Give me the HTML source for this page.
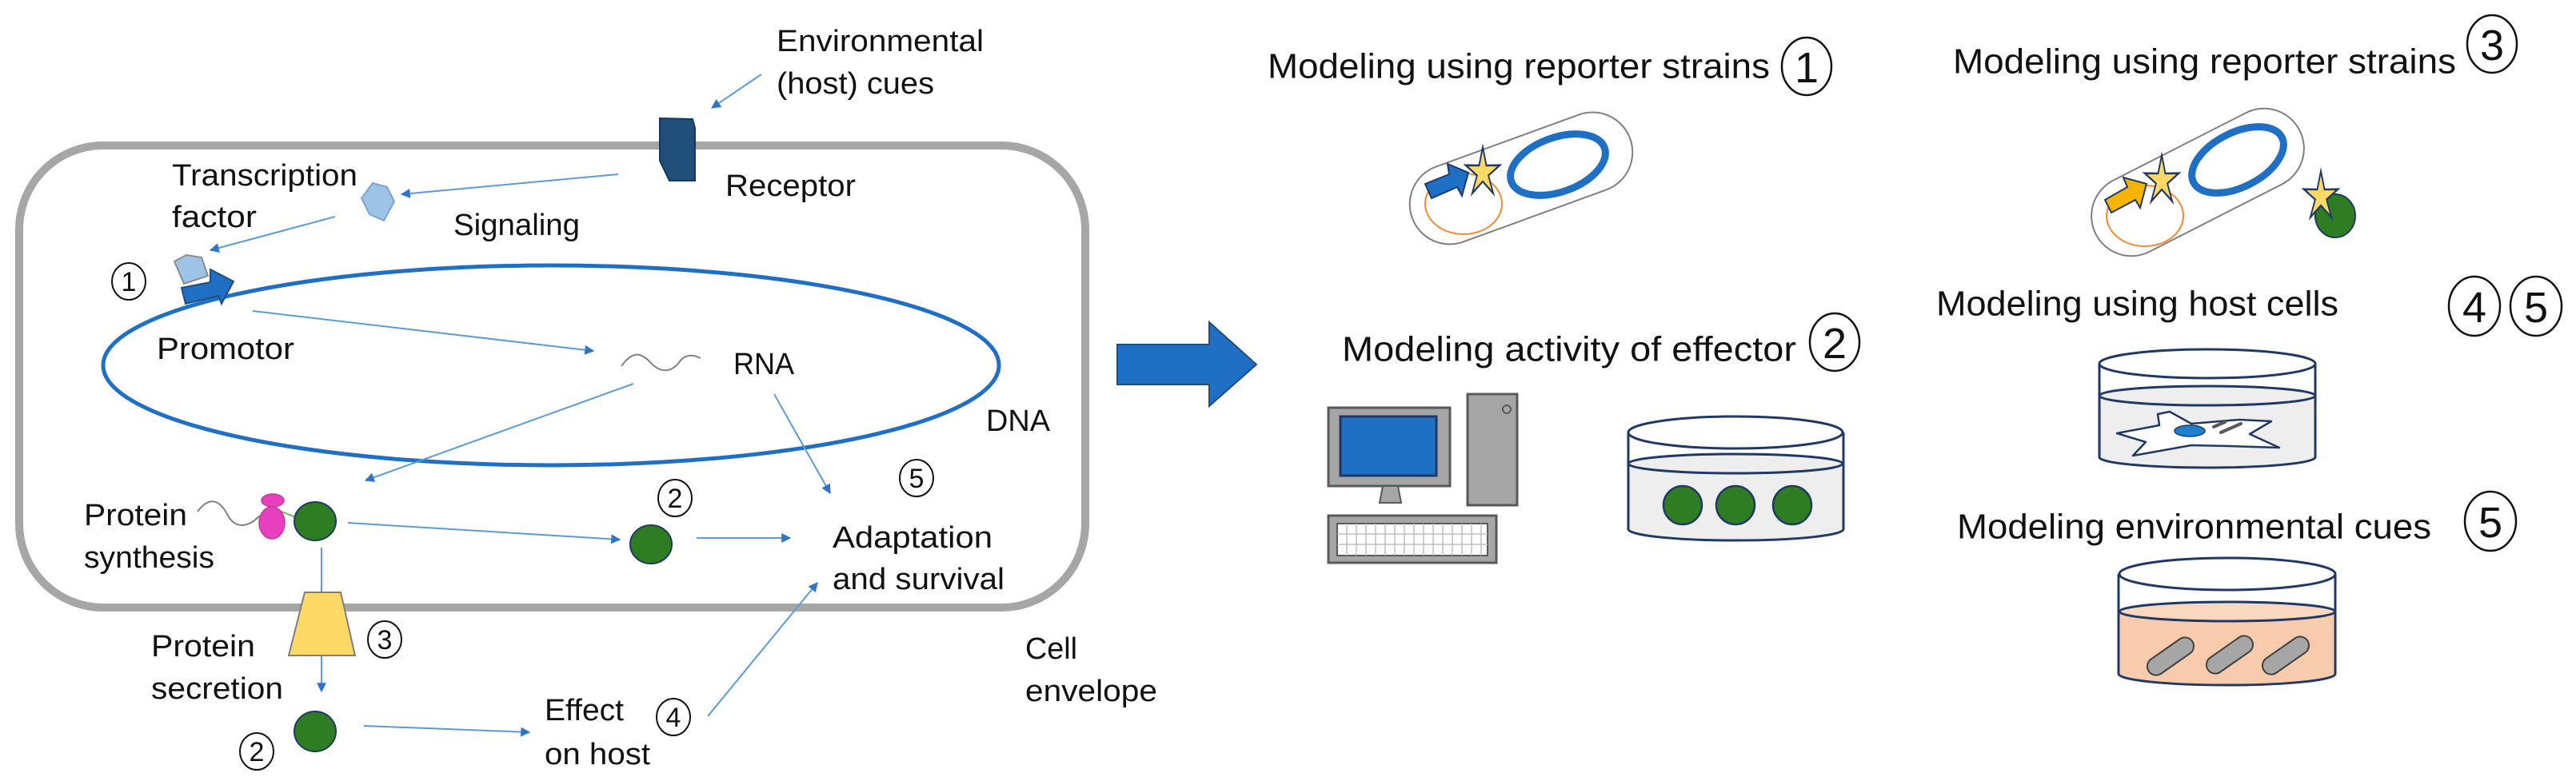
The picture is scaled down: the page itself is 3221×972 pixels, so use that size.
<!DOCTYPE html>
<html><head><meta charset="utf-8"><style>
html,body{margin:0;padding:0;background:#fff;}
svg{display:block;}
text{font-family:"Liberation Sans",sans-serif;fill:#111;dominant-baseline:central;}
</style></head><body>
<svg width="3221" height="972" viewBox="0 0 3221 972" xmlns="http://www.w3.org/2000/svg">
<defs>
<marker id="ah" viewBox="0 0 10 10" refX="9" refY="5" markerWidth="12" markerHeight="12" markerUnits="userSpaceOnUse" orient="auto"><path d="M0,0 L10,5 L0,10 z" fill="#2e75c8"/></marker>
<polygon id="star" points="0,-32 6,-9 28.5,-9.3 9.5,3.5 17.6,26 0,11 -17.6,26 -9.5,3.5 -28.5,-9.3 -6,-9" fill="#ffd966" stroke="#1f3864" stroke-width="2.5"/>
</defs>

<!-- Cell -->
<rect x="24" y="182" width="1333" height="578" rx="105" ry="105" fill="none" stroke="#a6a6a6" stroke-width="10"/>
<!-- DNA -->
<ellipse cx="689" cy="457" rx="560" ry="125" fill="none" stroke="#1f6fc5" stroke-width="5"/>

<!-- connectors -->
<g stroke="#5b9bd5" stroke-width="2" fill="none" marker-end="url(#ah)">
<line x1="952" y1="93" x2="890" y2="135"/>
<line x1="773" y1="218" x2="502" y2="243"/>
<line x1="419" y1="271" x2="263" y2="313"/>
<line x1="316" y1="389" x2="742" y2="439"/>
<line x1="792" y1="480" x2="457" y2="601"/>
<line x1="968" y1="493" x2="1038" y2="617"/>
<line x1="435" y1="654" x2="775" y2="675"/>
<line x1="871" y1="673" x2="988" y2="673"/>
<line x1="402" y1="685" x2="402" y2="865"/>
<line x1="455" y1="908" x2="662" y2="916"/>
<line x1="885" y1="896" x2="1022" y2="729"/>
</g>

<!-- receptor -->
<polygon points="825,148 866,149 869,160 869,226 837,226 825,201" fill="#1f4e79" stroke="#17375e" stroke-width="2"/>
<!-- TF diamond -->
<polygon points="466,229 484,234 493,252 480,276 462,268 452,248" fill="#9dc3e6" stroke="#7aa5d0" stroke-width="2"/>
<!-- promoter -->
<polygon points="218,327 233,319 252,322 260,345 230,355" fill="#9dc3e6" stroke="#8c8c8c" stroke-width="2"/>
<polygon points="227,360 263,353 263,337 292,352 277,380 273,370 232,380" fill="#1f6fc5" stroke="#1f4e79" stroke-width="2"/>

<!-- RNA squiggle -->
<path d="M777,458 C790,440 800,440 812,452 C826,468 840,466 850,452 C858,442 868,444 876,448" fill="none" stroke="#808080" stroke-width="2"/>
<!-- protein synthesis -->
<path d="M247,640 C262,620 275,625 285,645 C295,662 310,660 325,645" fill="none" stroke="#808080" stroke-width="2"/>
<line x1="352" y1="640" x2="372" y2="648" stroke="#70ad47" stroke-width="2"/>
<ellipse cx="340" cy="654" rx="16" ry="20" fill="#e83fbf" stroke="#c0389f" stroke-width="1.5"/>
<ellipse cx="341" cy="626" rx="14" ry="8" fill="#e83fbf" stroke="#c0389f" stroke-width="1.5"/>
<g fill="#2e7d22" stroke="#1f3864" stroke-width="2">
<ellipse cx="394" cy="652" rx="26" ry="24"/>
<ellipse cx="814" cy="681" rx="26" ry="24"/>
<ellipse cx="394" cy="915" rx="26" ry="25"/>
</g>
<!-- secretion trapezoid -->
<polygon points="381,741 426,741 444,820 361,820" fill="#ffd966" stroke="#7f7f7f" stroke-width="2"/>

<!-- left labels -->
<g font-size="38">
<text x="971" y="52" textLength="259" lengthAdjust="spacingAndGlyphs">Environmental</text>
<text x="971" y="105" textLength="197" lengthAdjust="spacingAndGlyphs">(host) cues</text>
<text x="907" y="233" textLength="163" lengthAdjust="spacingAndGlyphs">Receptor</text>
<text x="215" y="220" textLength="232" lengthAdjust="spacingAndGlyphs">Transcription</text>
<text x="215" y="272" textLength="106" lengthAdjust="spacingAndGlyphs">factor</text>
<text x="567" y="282" textLength="158" lengthAdjust="spacingAndGlyphs">Signaling</text>
<text x="196" y="437" textLength="172" lengthAdjust="spacingAndGlyphs">Promotor</text>
<text x="917" y="456" textLength="76" lengthAdjust="spacingAndGlyphs">RNA</text>
<text x="1233" y="527" textLength="80" lengthAdjust="spacingAndGlyphs">DNA</text>
<text x="105" y="645" textLength="129" lengthAdjust="spacingAndGlyphs">Protein</text>
<text x="105" y="698" textLength="163" lengthAdjust="spacingAndGlyphs">synthesis</text>
<text x="1041" y="673" textLength="200" lengthAdjust="spacingAndGlyphs">Adaptation</text>
<text x="1041" y="725" textLength="215" lengthAdjust="spacingAndGlyphs">and survival</text>
<text x="189" y="809" textLength="130" lengthAdjust="spacingAndGlyphs">Protein</text>
<text x="189" y="862" textLength="165" lengthAdjust="spacingAndGlyphs">secretion</text>
<text x="681" y="889" textLength="99" lengthAdjust="spacingAndGlyphs">Effect</text>
<text x="681" y="944" textLength="132" lengthAdjust="spacingAndGlyphs">on host</text>
<text x="1282" y="812" textLength="65" lengthAdjust="spacingAndGlyphs">Cell</text>
<text x="1282" y="865" textLength="165" lengthAdjust="spacingAndGlyphs">envelope</text>
</g>
<!-- left circled numbers -->
<g fill="none" stroke="#111" stroke-width="2">
<ellipse cx="161" cy="352" rx="21" ry="23"/><ellipse cx="844" cy="623" rx="21" ry="23"/><ellipse cx="1146" cy="598" rx="21" ry="23"/>
<ellipse cx="481" cy="800" rx="21" ry="23"/><ellipse cx="321" cy="940" rx="21" ry="23"/><ellipse cx="842" cy="897" rx="21" ry="23"/>
</g>
<g font-size="34" text-anchor="middle">
<text x="161" y="353">1</text><text x="844" y="624">2</text><text x="1146" y="599">5</text>
<text x="481" y="801">3</text><text x="321" y="941">2</text><text x="842" y="898">4</text>
</g>

<!-- big arrow -->
<polygon points="1397,431 1512,431 1512,403 1571,456 1512,508 1512,481 1397,481" fill="#1f6fc5" stroke="#1f4e79" stroke-width="2"/>

<!-- right texts -->
<g font-size="44">
<text x="1585" y="83" textLength="628" lengthAdjust="spacingAndGlyphs">Modeling using reporter strains</text>
<text x="2442" y="77" textLength="629" lengthAdjust="spacingAndGlyphs">Modeling using reporter strains</text>
<text x="2421" y="380" textLength="503" lengthAdjust="spacingAndGlyphs">Modeling using host cells</text>
<text x="1678" y="437" textLength="568" lengthAdjust="spacingAndGlyphs">Modeling activity of effector</text>
<text x="2447" y="659" textLength="593" lengthAdjust="spacingAndGlyphs">Modeling environmental cues</text>
</g>
<g fill="none" stroke="#111" stroke-width="2.5">
<ellipse cx="2259" cy="83" rx="31" ry="36"/>
<ellipse cx="3116" cy="55" rx="31" ry="36"/>
<ellipse cx="3094" cy="383" rx="32" ry="37"/>
<ellipse cx="3171" cy="383" rx="32" ry="37"/>
<ellipse cx="2294" cy="428" rx="31" ry="36"/>
<ellipse cx="3114" cy="652" rx="32" ry="37"/>
</g>
<g font-size="54" text-anchor="middle">
<text x="2259" y="85">1</text><text x="3116" y="57">3</text>
<text x="3094" y="385">4</text><text x="3171" y="385">5</text>
<text x="2294" y="430">2</text><text x="3114" y="654">5</text>
</g>

<!-- reporter strain 1 -->
<g transform="translate(1902,223) rotate(-20)">
<rect x="-145" y="-50" width="290" height="100" rx="50" fill="#fff" stroke="#7f7f7f" stroke-width="2"/>
</g>
<ellipse cx="1948" cy="206" rx="62" ry="34" transform="rotate(-20 1948 206)" fill="none" stroke="#1f6fc5" stroke-width="9"/>
<ellipse cx="1830" cy="255" rx="48" ry="38" fill="none" stroke="#f4892f" stroke-width="2"/>
<polygon points="1782,230 1812,218 1810,205 1836,216 1828,245 1822,234 1790,248" fill="#1f6fc5" stroke="#1f3864" stroke-width="2"/>
<use href="#star" transform="translate(1854,216) scale(0.75,1)"/>

<!-- reporter strain 3 -->
<g transform="translate(2748,228) rotate(-27)">
<rect x="-143" y="-50" width="286" height="100" rx="50" fill="#fff" stroke="#7f7f7f" stroke-width="2"/>
</g>
<ellipse cx="2798" cy="200" rx="62" ry="34" transform="rotate(-27 2798 200)" fill="none" stroke="#1f6fc5" stroke-width="9"/>
<ellipse cx="2682" cy="270" rx="48" ry="38" fill="none" stroke="#f4892f" stroke-width="2"/>
<polygon points="2632,250 2660,234 2655,222 2684,230 2676,260 2670,250 2640,266" fill="#f4b400" stroke="#1f3864" stroke-width="2"/>
<use href="#star" transform="translate(2703,226) scale(0.75,1)"/>
<ellipse cx="2920" cy="270" rx="25" ry="27" fill="#2e7d22" stroke="#1f3864" stroke-width="2"/>
<use href="#star" transform="translate(2902,246) scale(0.75,1)"/>

<!-- computer -->
<rect x="1661" y="510" width="152" height="98" fill="#a6a6a6" stroke="#595959" stroke-width="3"/>
<rect x="1676" y="521" width="120" height="74" fill="#1f6fc5" stroke="#1f3864" stroke-width="3"/>
<polygon points="1729,608 1748,608 1752,629 1725,629" fill="#a6a6a6" stroke="#595959" stroke-width="2"/>
<rect x="1835" y="493" width="62" height="139" fill="#a6a6a6" stroke="#595959" stroke-width="3"/>
<circle cx="1884" cy="512" r="5" fill="none" stroke="#595959" stroke-width="2"/>
<rect x="1661" y="645" width="210" height="59" fill="#a6a6a6" stroke="#595959" stroke-width="3"/>
<rect x="1672" y="655" width="188" height="40" fill="#fff" stroke="#595959" stroke-width="2"/>
<g stroke="#bfbfbf" stroke-width="1.5">
<line x1="1672" y1="668" x2="1860" y2="668"/><line x1="1672" y1="681" x2="1860" y2="681"/>
<line x1="1684" y1="655" x2="1684" y2="695"/><line x1="1696" y1="655" x2="1696" y2="695"/><line x1="1708" y1="655" x2="1708" y2="695"/><line x1="1720" y1="655" x2="1720" y2="695"/><line x1="1732" y1="655" x2="1732" y2="695"/><line x1="1744" y1="655" x2="1744" y2="695"/><line x1="1756" y1="655" x2="1756" y2="695"/><line x1="1768" y1="655" x2="1768" y2="695"/><line x1="1780" y1="655" x2="1780" y2="695"/><line x1="1792" y1="655" x2="1792" y2="695"/><line x1="1804" y1="655" x2="1804" y2="695"/><line x1="1816" y1="655" x2="1816" y2="695"/><line x1="1828" y1="655" x2="1828" y2="695"/><line x1="1840" y1="655" x2="1840" y2="695"/><line x1="1852" y1="655" x2="1852" y2="695"/>
</g>

<!-- effector dish -->
<path d="M2036,580 L2036,662 A134,14 0 0 0 2305,662 L2305,580 Z" fill="#eeeeee"/>
<ellipse cx="2170" cy="580" rx="134" ry="12" fill="#eeeeee" stroke="#1f3864" stroke-width="3"/>
<path d="M2036,541 L2036,662 A134,14 0 0 0 2305,662 L2305,541" fill="none" stroke="#1f3864" stroke-width="3"/>
<ellipse cx="2170" cy="541" rx="134" ry="20" fill="#fff" stroke="#1f3864" stroke-width="3"/>
<g fill="#2e7d22" stroke="#1f3864" stroke-width="2.5">
<ellipse cx="2104" cy="632" rx="24" ry="24"/><ellipse cx="2170" cy="632" rx="24" ry="24"/><ellipse cx="2241" cy="632" rx="24" ry="24"/>
</g>

<!-- host dish -->
<path d="M2625,495 L2625,572 A135,13 0 0 0 2895,572 L2895,495 Z" fill="#eeeeee"/>
<ellipse cx="2760" cy="495" rx="135" ry="12" fill="#eeeeee" stroke="#1f3864" stroke-width="3"/>
<path d="M2625,455 L2625,572 A135,13 0 0 0 2895,572 L2895,455" fill="none" stroke="#1f3864" stroke-width="3"/>
<ellipse cx="2760" cy="455" rx="135" ry="18" fill="#fff" stroke="#1f3864" stroke-width="3"/>
<polygon points="2698,518 2713,515 2740,530 2800,525 2840,527 2813,543 2850,560 2787,558 2740,557 2667,570 2683,553 2647,542 2700,532" fill="#fff" stroke="#1f3864" stroke-width="2.5" stroke-linejoin="round"/>
<ellipse cx="2738" cy="539" rx="19" ry="7" fill="#1f7fd0" stroke="#1f3864" stroke-width="1.5"/>
<line x1="2768" y1="534" x2="2782" y2="528" stroke="#595959" stroke-width="4" stroke-linecap="round"/>
<line x1="2777" y1="541" x2="2802" y2="530" stroke="#595959" stroke-width="4" stroke-linecap="round"/>

<!-- env dish -->
<path d="M2649,765 L2649,843 A135,14 0 0 0 2920,843 L2920,765 Z" fill="#f8cbad"/>
<ellipse cx="2785" cy="765" rx="135" ry="12" fill="#fad8c0" stroke="#1f3864" stroke-width="3"/>
<path d="M2649,718 L2649,843 A135,14 0 0 0 2920,843 L2920,718" fill="none" stroke="#1f3864" stroke-width="3"/>
<ellipse cx="2785" cy="718" rx="135" ry="20" fill="#fff" stroke="#1f3864" stroke-width="3"/>
<g fill="#a6a6a6" stroke="#404040" stroke-width="2">
<rect x="-33" y="-11" width="66" height="22" rx="11" transform="translate(2714,821) rotate(-35)"/>
<rect x="-33" y="-11" width="66" height="22" rx="11" transform="translate(2788,819) rotate(-35)"/>
<rect x="-33" y="-11" width="66" height="22" rx="11" transform="translate(2858,820) rotate(-35)"/>
</g>
</svg>
</body></html>
